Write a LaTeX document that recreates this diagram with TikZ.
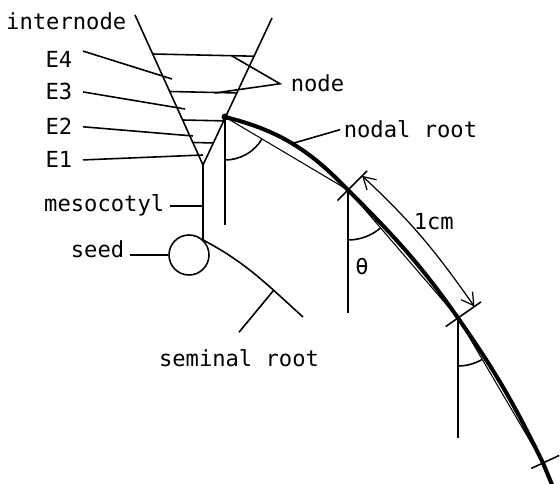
\documentclass[tikz,border=0pt]{standalone}
\usepackage{fontspec}
\usepackage{tikz}
\usetikzlibrary{calc,arrows.meta}
\newfontfamily\monolabel{DejaVu Sans Mono}

\begin{document}
\begin{tikzpicture}[x=0.2mm, y=0.2mm, line width=0.9pt,
  font=\monolabel\fontsize{12.6}{14}\selectfont,
  lbl/.style={inner sep=0pt},
  chord/.style={line width=0.6pt},
  noderoot/.style={line width=2.3pt, line cap=round},
  barb/.style={{Straight Barb[length=2.4mm,width=2.8mm]}-{Straight Barb[length=2.4mm,width=2.8mm]}, line width=0.7pt}]
  \useasboundingbox (0,0) rectangle (560,484);

  % shoot: internodes E1-E4 between the nodes
  \coordinate (vl) at (135,469);
  \coordinate (vr) at (272,466);
  \coordinate (vb) at (203,319);
  \draw (vl) -- (vb) -- (vr);
  \foreach \t in {0.26,0.51,0.70,0.85}
    \draw ($(vl)!\t!(vb)$) -- ($(vr)!\t!(vb)$);

  % seed, mesocotyl, seminal root
  \node[draw, circle, minimum size=8mm, inner sep=0pt] (seed) at (189,229) {};
  \draw (vb) -- (vb |- seed.north east);
  \coordinate (srend) at (303,167);
  \draw (seed.north east) to[out=-28,in=138] coordinate[pos=0.7] (srp) (srend);

  % nodal root, its chords and angles
  \coordinate (n1) at (225,367);
  \coordinate (n2) at (348,294);
  \coordinate (n3) at (458,166);
  \coordinate (n4) at (543,21);
  \coordinate (tip) at (553,-3);
  \draw[noderoot] (n1) to[out=-14,in=134] coordinate[pos=0.5] (nrp) (n2)
    to[out=-45,in=125] (n3) to[out=-55,in=116] (n4) -- (tip);
  \draw[chord] (n1) -- (n2) -- (n3) -- (n4);
  \fill (n1) circle (3.5);
  \draw (n1) -- ++(0,-108);
  \draw (n2) -- ++(0,-123);
  \draw (n3) -- ++(0,-120);
  \draw (n1) ++(-90:43) arc[start angle=-90, end angle=-30.7, radius=43];
  \draw (n2) ++(-90:50) arc[start angle=-90, end angle=-49.3, radius=50];
  \draw (n3) ++(-90:48) arc[start angle=-90, end angle=-59.6, radius=48];

  % 1cm segment
  \draw ($(n2)+(225:15)$) -- ($(n2)+(45:27)$);
  \draw ($(n3)+(215:15)$) -- ($(n3)+(35:28)$);
  \draw ($(n4)+(205:13)$) -- ($(n4)+(25:18)$);
  \draw[barb] ($(n2)+(45:20)$) to[out=-43,in=125] ($(n3)+(35:20)$);

  % labels
  \node[lbl, anchor=base east] (internode) at (127,454) {internode};
  \node[lbl, anchor=base east] (e4) at (73,416) {E4};
  \node[lbl, anchor=base east] (e3) at (73,384) {E3};
  \node[lbl, anchor=base east] (e2) at (73,349) {E2};
  \node[lbl, anchor=base east] (e1) at (73,316) {E1};
  \node[lbl, anchor=base east] (meso) at (165,272) {mesocotyl};
  \node[lbl, anchor=base east] (seedlbl) at (125,226) {seed};
  \node[lbl, anchor=base west] (nodelbl) at (290,392) {node};
  \node[lbl, anchor=base west] (nodal) at (343,346) {nodal root};
  \node[lbl, anchor=base west] (cm) at (413,254) {1cm};
  \node[lbl, anchor=base] (theta) at (362,209) {θ};
  \node[lbl, anchor=base] (seminal) at (239,117) {seminal root};

  % leaders
  \coordinate (e4p) at (172,405);
  \coordinate (e3p) at (185,375);
  \coordinate (e2p) at (193,348);
  \coordinate (e1p) at (203,329);
  \coordinate (nodep1) at (232,428);
  \coordinate (nodep2) at (215,391);
  \draw ([xshift=2mm]e4.north east) -- (e4p);
  \draw ([xshift=2mm]e3.east) -- (e3p);
  \draw ([xshift=2mm]e2.east) -- (e2p);
  \draw ([xshift=2mm]e1.east) -- (e1p);
  \draw ([xshift=1mm]meso.east) -- (meso.east -| vb);
  \draw (seed.west) -- ([xshift=1mm]seed.west -| seedlbl.east);
  \draw (nodep1) -- ([xshift=-2mm]nodelbl.west) -- (nodep2);
  \draw (nrp) -- ([xshift=-0.6mm]nodal.west);
  \draw (srp) -- ([yshift=3.4mm]seminal.north);
\end{tikzpicture}
\end{document}
